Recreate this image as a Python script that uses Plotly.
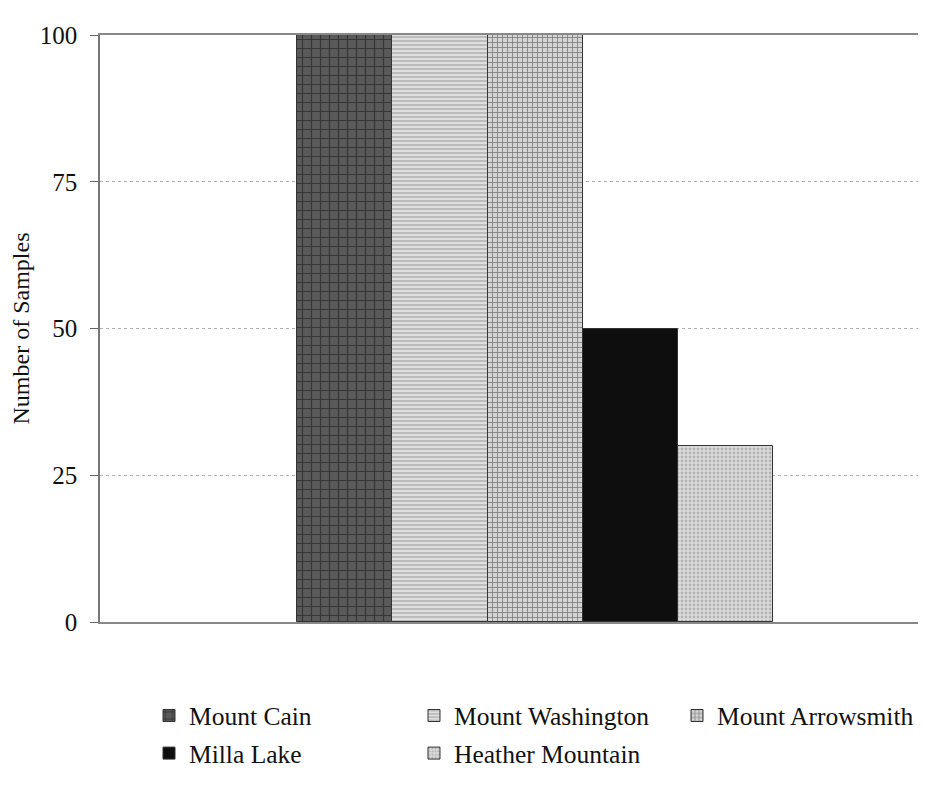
import plotly.graph_objects as go

sites = ["Mount Cain", "Mount Washington", "Mount Arrowsmith", "Milla Lake", "Heather Mountain"]
samples = [100, 100, 100, 50, 30]
y_ticks = [0, 25, 50, 75, 100]

styles = [
    dict(color="#4a4a4a", pattern=dict(shape="+", fgcolor="#111111", bgcolor="#5a5a5a", size=9, solidity=0.25)),
    dict(color="#d8d8d8", pattern=dict(shape="-", fgcolor="#8a8a8a", bgcolor="#dedede", size=4, solidity=0.4)),
    dict(color="#cfcfcf", pattern=dict(shape="+", fgcolor="#222222", bgcolor="#d4d4d4", size=5, solidity=0.3)),
    dict(color="#0e0e0e"),
    dict(color="#d0d0d0", pattern=dict(shape=".", fgcolor="#8a8a8a", bgcolor="#dcdcdc", size=4, solidity=0.4)),
]

# one legend box per entry, laid out as in the reference (3 columns, 2 rows)
legend_ids = ["legend", "legend2", "legend3", "legend4", "legend5"]
legend_pos = [(0.0594, -0.120), (0.3806, -0.120), (0.6994, -0.120),
              (0.0594, -0.184), (0.3806, -0.184)]

fig = go.Figure()
for name, val, st, lg in zip(sites, samples, styles, legend_ids):
    fig.add_trace(go.Bar(
        x=[0], y=[val], name=name, legend=lg,
        marker=dict(line=dict(color="#333333", width=1), **st),
    ))

legend_layout = {}
for lg, (lx, ly) in zip(legend_ids, legend_pos):
    legend_layout[lg] = dict(orientation="h", x=lx, y=ly, xanchor="left", yanchor="top",
                             font=dict(size=25.5, family="Liberation Serif", color="#111111"),
                             bgcolor="rgba(0,0,0,0)")

fig.update_layout(
    width=918, height=803,
    margin=dict(l=92, r=1, t=27, b=189),
    barmode="group", bargap=0, bargroupgap=0.0,
    plot_bgcolor="white", paper_bgcolor="white",
    font=dict(family="Liberation Serif", size=24, color="#111111"),
    showlegend=True,
    xaxis=dict(range=[-0.914, 0.819], showticklabels=False, ticks="", showgrid=False,
               zeroline=False, showline=True, mirror=True, linecolor="#888888", linewidth=1.5),
    yaxis=dict(range=[0, 100], tickvals=y_ticks, ticks="outside", ticklen=8,
               tickcolor="#666666", showline=True, linecolor="#777777", linewidth=1.5,
               showgrid=True, gridcolor="#b0b0b0", griddash="dot", zeroline=False,
               ticklabelstandoff=8,
               title=dict(text="Number of Samples", font=dict(size=24), standoff=8),
               tickfont=dict(size=25)),
    **legend_layout,
)

fig.write_html("out.html")
